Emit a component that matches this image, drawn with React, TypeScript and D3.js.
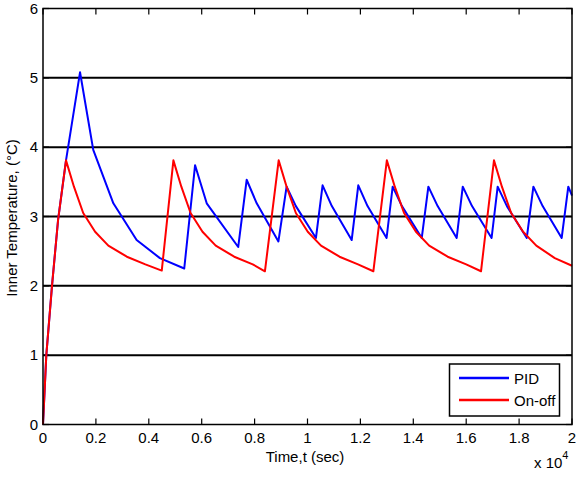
import { useEffect, useRef } from "react";
import * as d3 from "d3";

// time in seconds, temperature in °C
const pidTime = [
  0, 125, 340, 570, 870, 1400, 1900, 2660, 3540, 4420, 5340, 5750, 6190, 7380,
  7700, 8080, 8900, 9210, 9560, 10320, 10570, 10920, 11670, 11920, 12270, 12990,
  13220, 13570, 14320, 14570, 14920, 15640, 15870, 16220, 16960, 17190, 17540,
  18290, 18540, 18890, 19610, 19860, 20000,
];
const pidTemp = [
  0, 1.0, 2.0, 2.95, 3.81, 5.08, 3.96, 3.19, 2.66, 2.4, 2.25, 3.74, 3.19, 2.56,
  3.53, 3.19, 2.64, 3.43, 3.15, 2.69, 3.45, 3.15, 2.66, 3.45, 3.15, 2.69, 3.43,
  3.15, 2.69, 3.43, 3.15, 2.69, 3.43, 3.15, 2.69, 3.43, 3.15, 2.69, 3.43, 3.15,
  2.69, 3.43, 3.3,
];

const onOffTime = [
  0, 125, 340, 570, 870, 1170, 1520, 1970, 2470, 3170, 3870, 4490, 4930, 5230,
  5580, 6030, 6530, 7230, 7930, 8390, 8910, 9210, 9560, 10010, 10510, 11210,
  11910, 12490, 13000, 13300, 13650, 14100, 14600, 15300, 16000, 16560, 17050,
  17350, 17700, 18150, 18650, 19350, 20000,
];
const onOffTemp = [
  0, 1.0, 2.0, 2.95, 3.81, 3.43, 3.05, 2.78, 2.58, 2.42, 2.31, 2.22, 3.81, 3.43,
  3.05, 2.78, 2.58, 2.42, 2.31, 2.21, 3.81, 3.43, 3.05, 2.78, 2.58, 2.42, 2.31,
  2.21, 3.81, 3.43, 3.05, 2.78, 2.58, 2.42, 2.31, 2.21, 3.81, 3.43, 3.05, 2.78,
  2.58, 2.4, 2.29,
];

const xTicks = [0, 2000, 4000, 6000, 8000, 10000, 12000, 14000, 16000, 18000, 20000];
const xTickLabels = ["0", "0.2", "0.4", "0.6", "0.8", "1", "1.2", "1.4", "1.6", "1.8", "2"];
const yTicks = [0, 1, 2, 3, 4, 5, 6];

const seriesNames = ["PID", "On-off"];
const seriesColors = ["#0000ff", "#ff0000"];

const App = () => {
  const svgRef = useRef(null);

  useEffect(() => {
    const width = 578;
    const height = 488;
    const margin = { top: 8.5, right: 6, bottom: 63.5, left: 43 };
    const font = "'Liberation Sans', Arial, sans-serif";

    const svg = d3.select(svgRef.current);
    svg.selectAll("*").remove();
    svg.attr("width", width).attr("height", height);

    const x = d3.scaleLinear().domain([0, 20000]).range([margin.left, width - margin.right]);
    const y = d3.scaleLinear().domain([0, 6]).range([height - margin.bottom, margin.top]);

    svg.append("rect").attr("width", width).attr("height", height).attr("fill", "#fff");

    // horizontal grid
    svg
      .append("g")
      .selectAll("line")
      .data(yTicks.slice(1, -1))
      .enter()
      .append("line")
      .attr("x1", x(0))
      .attr("x2", x(20000))
      .attr("y1", (d) => y(d))
      .attr("y2", (d) => y(d))
      .attr("stroke", "#000")
      .attr("stroke-width", 2);

    // tick marks on all four sides
    const tk = 6;
    const ticks = svg.append("g").attr("stroke", "#000").attr("stroke-width", 1.2);
    xTicks.forEach((t) => {
      ticks.append("line").attr("x1", x(t)).attr("x2", x(t)).attr("y1", y(0)).attr("y2", y(0) - tk);
      ticks.append("line").attr("x1", x(t)).attr("x2", x(t)).attr("y1", y(6)).attr("y2", y(6) + tk);
    });
    yTicks.forEach((t) => {
      ticks.append("line").attr("x1", x(0)).attr("x2", x(0) + tk).attr("y1", y(t)).attr("y2", y(t));
      ticks.append("line").attr("x1", x(20000)).attr("x2", x(20000) - tk).attr("y1", y(t)).attr("y2", y(t));
    });

    const line = d3
      .line()
      .x((d) => x(d[0]))
      .y((d) => y(d[1]));

    const pid = pidTime.map((t, i) => [t, pidTemp[i]]);
    const onOff = onOffTime.map((t, i) => [t, onOffTemp[i]]);

    [pid, onOff].forEach((data, i) => {
      svg
        .append("path")
        .datum(data)
        .attr("d", line)
        .attr("fill", "none")
        .attr("stroke", seriesColors[i])
        .attr("stroke-width", 2)
        .attr("stroke-linejoin", "round");
    });

    // axes box
    svg
      .append("rect")
      .attr("x", x(0))
      .attr("y", y(6))
      .attr("width", x(20000) - x(0))
      .attr("height", y(0) - y(6))
      .attr("fill", "none")
      .attr("stroke", "#000")
      .attr("stroke-width", 1.5);

    // tick labels
    svg
      .append("g")
      .selectAll("text")
      .data(xTicks)
      .enter()
      .append("text")
      .attr("x", (d) => x(d))
      .attr("y", y(0) + 18)
      .attr("text-anchor", "middle")
      .attr("font-family", font)
      .attr("font-size", 15)
      .text((d, i) => xTickLabels[i]);

    svg
      .append("g")
      .selectAll("text")
      .data(yTicks)
      .enter()
      .append("text")
      .attr("x", x(0) - 5)
      .attr("y", (d) => y(d) + 5)
      .attr("text-anchor", "end")
      .attr("font-family", font)
      .attr("font-size", 15)
      .text((d) => d);

    // axis titles
    svg
      .append("text")
      .attr("x", 305)
      .attr("y", 462)
      .attr("text-anchor", "middle")
      .attr("font-family", font)
      .attr("font-size", 15)
      .text("Time,t (sec)");

    svg
      .append("text")
      .attr("transform", "translate(17,218) rotate(-90)")
      .attr("text-anchor", "middle")
      .attr("font-family", font)
      .attr("font-size", 15)
      .text("Inner Temperature, (°C)");

    const exp = svg
      .append("text")
      .attr("x", 534)
      .attr("y", 468)
      .attr("font-family", font)
      .attr("font-size", 15);
    exp.append("tspan").text("x 10");
    exp.append("tspan").attr("dy", -9).attr("font-size", 11).text("4");

    // legend
    const lg = svg.append("g");
    lg.append("rect")
      .attr("x", 449.5)
      .attr("y", 364)
      .attr("width", 110)
      .attr("height", 52)
      .attr("fill", "#fff")
      .attr("stroke", "#000")
      .attr("stroke-width", 1.5);
    seriesNames.forEach((name, i) => {
      const ly = 378 + i * 22;
      lg.append("line")
        .attr("x1", 459)
        .attr("x2", 509)
        .attr("y1", ly)
        .attr("y2", ly)
        .attr("stroke", seriesColors[i])
        .attr("stroke-width", 2.5);
      lg.append("text")
        .attr("x", 514)
        .attr("y", ly + 6)
        .attr("font-family", font)
        .attr("font-size", 15)
        .text(name);
    });
  }, []);

  return <svg ref={svgRef} style={{ position: "absolute", left: 0, top: 0 }}></svg>;
};

export default App;
